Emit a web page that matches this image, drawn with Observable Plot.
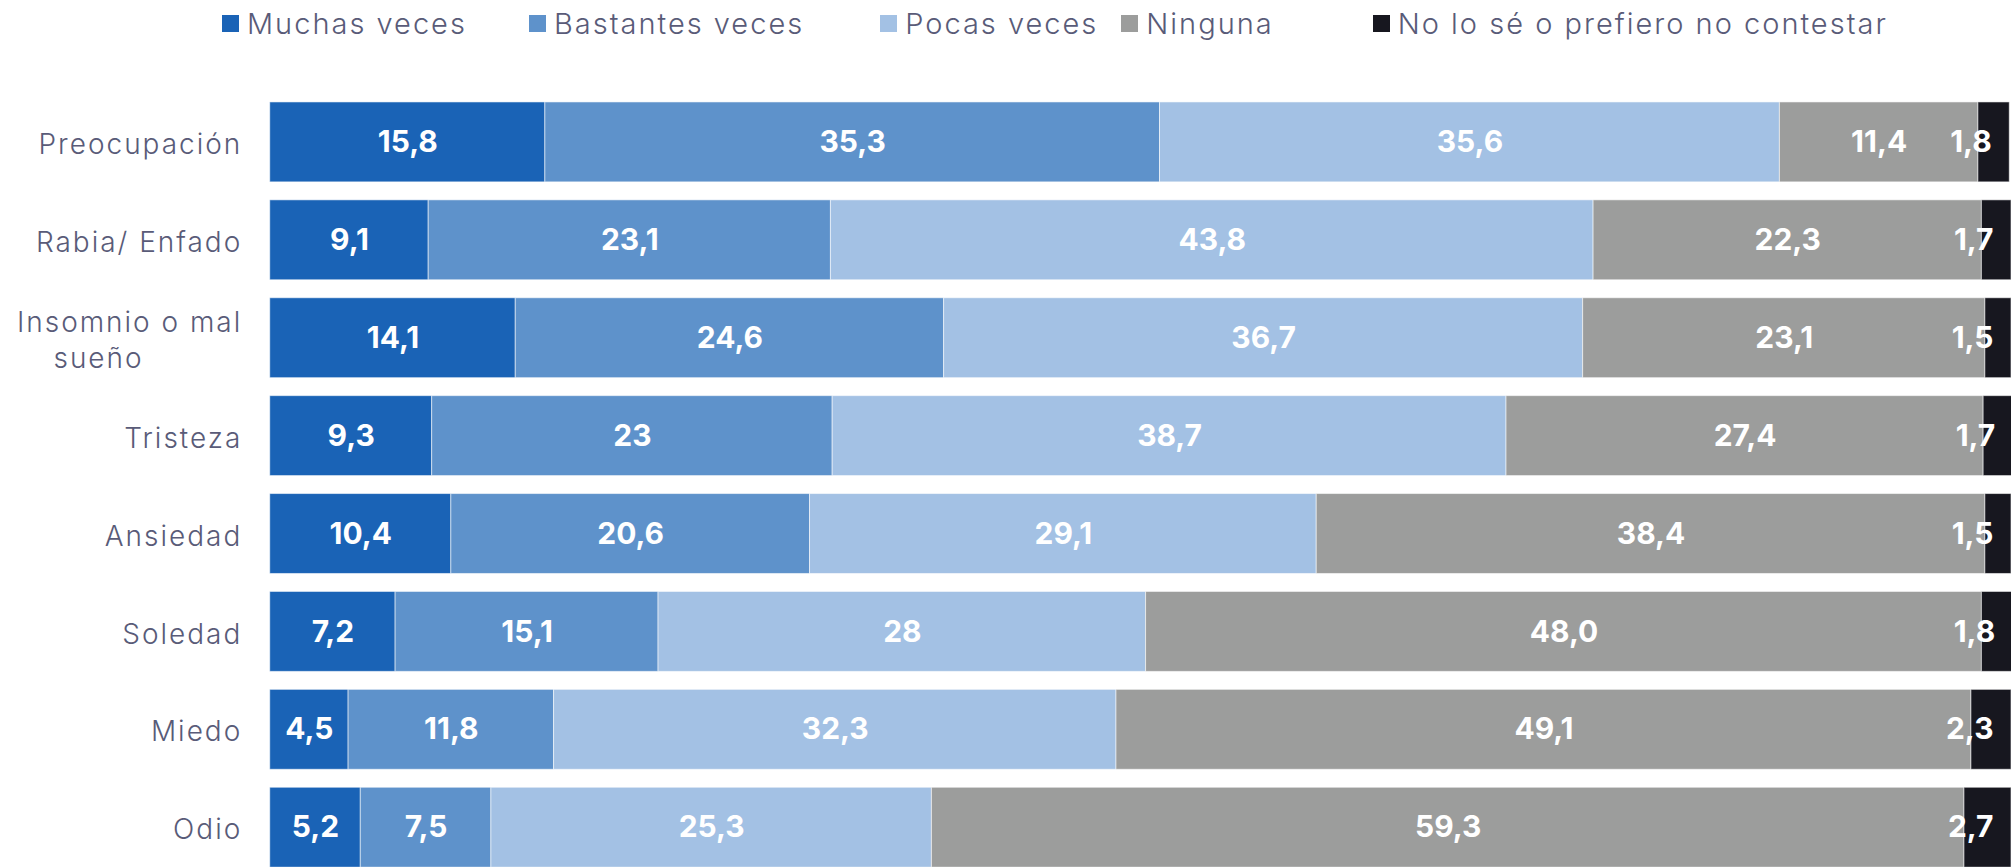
<!DOCTYPE html>
<html>
<head>
<meta charset="utf-8">
<script src="https://cdn.jsdelivr.net/npm/d3@7"></script>
<script src="https://cdn.jsdelivr.net/npm/@observablehq/plot@0.6"></script>
<style>
  html, body { margin: 0; padding: 0; background: #fff; overflow: hidden; width: 2011px; height: 867px; }
  #legend { height: 46px; display: flex; align-items: center; justify-content: flex-start;
            padding-left: 222px; box-sizing: border-box; width: 2011px;
            font-family: Inter, sans-serif; font-weight: 300; font-size: 29px; letter-spacing: 2px; color: #595b78; }
  .item { display: flex; align-items: center; white-space: nowrap; }
  .item:nth-child(2) { margin-left: 62px; }
  .item:nth-child(3) { margin-left: 76px; }
  .item:nth-child(4) { margin-left: 23px; }
  .item:nth-child(5) { margin-left: 99px; }
  .sw { width: 17px; height: 17px; margin-right: 8px; display: inline-block; }
  g[aria-label="y-axis tick label"] text { letter-spacing: 2px; }
</style>
</head>
<body>
<div id="legend"></div>
<div id="chart"></div>
<script>
const categories = ["Preocupación", "Rabia/ Enfado", "Insomnio o mal\nsueño\u00a0\u00a0\u00a0\u00a0\u00a0\u00a0\u00a0\u00a0\u00a0\u00a0", "Tristeza", "Ansiedad", "Soledad", "Miedo", "Odio"];
const seriesNames = ["Muchas veces", "Bastantes veces", "Pocas veces", "Ninguna", "No lo sé o prefiero no contestar"];
const colors = ["#1a63b6", "#5e92cb", "#a3c1e4", "#9c9d9c", "#17171f"];
const muchas    = ["15,8", "9,1", "14,1", "9,3", "10,4", "7,2", "4,5", "5,2"];
const bastantes = ["35,3", "23,1", "24,6", "23", "20,6", "15,1", "11,8", "7,5"];
const pocas     = ["35,6", "43,8", "36,7", "38,7", "29,1", "28", "32,3", "25,3"];
const ninguna   = ["11,4", "22,3", "23,1", "27,4", "38,4", "48,0", "49,1", "59,3"];
const nolose    = ["1,8", "1,7", "1,5", "1,7", "1,5", "1,8", "2,3", "2,7"];
const seriesLabels = [muchas, bastantes, pocas, ninguna, nolose];

const num = s => +s.replace(",", ".");
const rows = [];
categories.forEach((cat, i) => {
  seriesNames.forEach((s, j) => {
    rows.push({cat, series: s, label: seriesLabels[j][i], value: num(seriesLabels[j][i]), last: j === seriesNames.length - 1});
  });
});
const totals = new Map(categories.map(c => [c, d3.sum(rows.filter(r => r.cat === c), r => r.value)]));
const lastRows = rows.filter(r => r.last);

// legend
const legend = document.getElementById("legend");
seriesNames.forEach((s, j) => {
  const it = document.createElement("div");
  it.className = "item";
  const sw = document.createElement("span");
  sw.className = "sw";
  sw.style.background = colors[j];
  it.appendChild(sw);
  it.appendChild(document.createTextNode(s));
  legend.appendChild(it);
});

const chart = Plot.plot({
  width: 2013,
  height: 840,
  marginTop: 37,
  marginBottom: 0,
  marginLeft: 270,
  marginRight: 0,
  style: {fontFamily: "Inter, sans-serif", background: "white", overflow: "hidden"},
  x: {domain: [0, 100], axis: null},
  y: {domain: categories, padding: 0.184, label: null},
  color: {domain: seriesNames, range: colors},
  marks: [
    Plot.barX(rows, {x: "value", y: "cat", fill: "series", stroke: "white", strokeOpacity: 0.55, strokeWidth: 1}),
    Plot.text(rows, Plot.stackX({x: "value", y: "cat", z: "series", text: d => d.last ? null : d.label,
      fill: "white", fontSize: 30, fontWeight: 700})),
    Plot.text(lastRows, {x: d => totals.get(d.cat), y: "cat", text: "label", textAnchor: "end", dx: -18,
      fill: "white", fontSize: 30, fontWeight: 700}),
    Plot.axisY({tickSize: 0, tickPadding: 28, fontSize: 28, fontWeight: 300, fill: "#595b78", lineHeight: 1.3, label: null})
  ]
});
document.getElementById("chart").appendChild(chart);
</script>
</body>
</html>
